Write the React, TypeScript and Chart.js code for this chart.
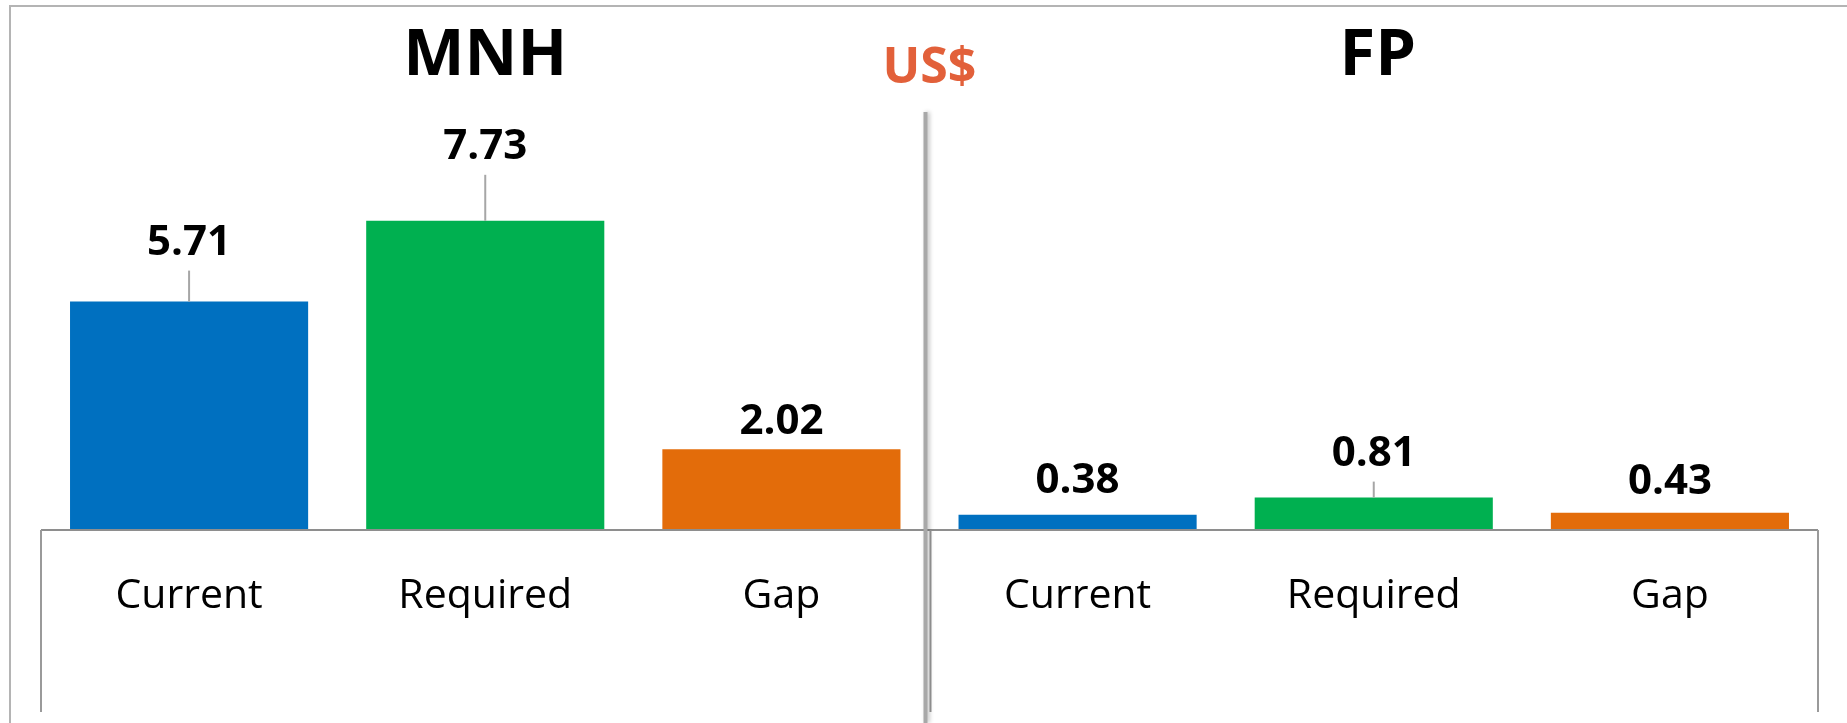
import React, { useEffect, useRef } from "react";
import { Chart, registerables } from "chart.js";

Chart.register(...registerables);

// ---- data ----
const groupTitles = ["MNH", "FP"];
const unitLabel = "US$";
const categories = ["Current", "Required", "Gap", "Current", "Required", "Gap"];
const mnhValues = [5.71, 7.73, 2.02];
const fpValues = [0.38, 0.81, 0.43];
const values = [...mnhValues, ...fpValues];

// ---- styles / layout ----
const barColors = ["#0070C0", "#00B050", "#E36C0A", "#0070C0", "#00B050", "#E36C0A"];
const labelLiftPx = [47, 62, 15, 22, 32, 19]; // distance from bar top to value label baseline
const FONT = "'Open Sans', 'Noto Sans', 'DejaVu Sans', sans-serif";
const W = 1847;
const H = 723;

const decorPlugin = {
  id: "decor",
  beforeDraw(chart: any) {
    const { ctx } = chart;
    ctx.save();
    ctx.fillStyle = "#ffffff";
    ctx.fillRect(0, 0, chart.width, chart.height);
    // outer frame (top + left)
    ctx.strokeStyle = "#B4B4B4";
    ctx.lineWidth = 2;
    ctx.beginPath();
    ctx.moveTo(10, chart.height);
    ctx.lineTo(10, 6);
    ctx.lineTo(chart.width, 6);
    ctx.stroke();
    ctx.restore();
  },
  afterDatasetsDraw(chart: any) {
    const { ctx, chartArea } = chart;
    const x = chart.scales.x;
    const y = chart.scales.y;
    const base = y.getPixelForValue(0);
    const boundary = (x.getPixelForValue(2) + x.getPixelForValue(3)) / 2;
    const left = chartArea.left;
    const right = chartArea.right;
    const boxBottom = base + 182;

    ctx.save();
    // category box lines
    ctx.strokeStyle = "#8E8E8E";
    ctx.lineWidth = 2;
    ctx.beginPath();
    ctx.moveTo(left, base);
    ctx.lineTo(right, base);
    ctx.stroke();
    ctx.strokeStyle = "#9A9A9A";
    [left, boundary + 1, right].forEach((px) => {
      ctx.beginPath();
      ctx.moveTo(px, base);
      ctx.lineTo(px, boxBottom);
      ctx.stroke();
    });

    // thick separator with shadow
    ctx.save();
    ctx.shadowColor = "rgba(0,0,0,0.25)";
    ctx.shadowBlur = 4;
    ctx.shadowOffsetX = 2;
    ctx.strokeStyle = "#A8A8A8";
    ctx.lineWidth = 4;
    ctx.beginPath();
    ctx.moveTo(boundary - 4, base - 418);
    ctx.lineTo(boundary - 4, chart.height);
    ctx.stroke();
    ctx.restore();

    // value labels + leader lines
    const meta = chart.getDatasetMeta(0);
    meta.data.forEach((bar: any, i: number) => {
      const top = bar.y;
      const labelY = top - labelLiftPx[i];
      if (labelLiftPx[i] > 25) {
        ctx.strokeStyle = "#A6A6A6";
        ctx.lineWidth = 2;
        ctx.beginPath();
        ctx.moveTo(bar.x, top);
        ctx.lineTo(bar.x, labelY + 16);
        ctx.stroke();
      }
      ctx.fillStyle = "#000000";
      ctx.font = `bold 42px ${FONT}`;
      ctx.textAlign = "center";
      ctx.textBaseline = "alphabetic";
      ctx.fillText(values[i].toFixed(2), bar.x, labelY);
    });

    // category labels
    ctx.fillStyle = "#000000";
    ctx.font = `41px ${FONT}`;
    ctx.textAlign = "center";
    ctx.textBaseline = "alphabetic";
    categories.forEach((c, i) => {
      ctx.fillText(c, x.getPixelForValue(i), base + 78);
    });

    // group titles
    ctx.font = `bold 65px ${FONT}`;
    ctx.fillText(groupTitles[0], (left + boundary) / 2, 75);
    ctx.fillText(groupTitles[1], (boundary + right) / 2 + 4, 75);
    ctx.fillStyle = "#E2603A";
    ctx.font = `bold 50px ${FONT}`;
    ctx.fillText(unitLabel, boundary, 83);
    ctx.restore();
  },
};

export default function App() {
  const ref = useRef<HTMLCanvasElement | null>(null);

  useEffect(() => {
    if (!ref.current) return;
    const chart = new Chart(ref.current, {
      type: "bar",
      data: {
        labels: categories,
        datasets: [
          {
            data: values,
            backgroundColor: barColors,
            borderWidth: 0,
            categoryPercentage: 1,
            barPercentage: 0.804,
          },
        ],
      },
      options: {
        responsive: false,
        animation: false,
        devicePixelRatio: 1,
        layout: { padding: { left: 41, right: 29, top: 90, bottom: 193 } },
        plugins: { legend: { display: false }, tooltip: { enabled: false } },
        scales: {
          x: { display: false },
          y: { display: false, min: 0, max: 11.0 },
        },
      },
      plugins: [decorPlugin],
    });
    const fonts: any = (document as any).fonts;
    if (fonts && fonts.ready) fonts.ready.then(() => chart.update());
    return () => chart.destroy();
  }, []);

  return (
    <div style={{ position: "absolute", left: 0, top: 0, width: W, height: H, background: "#fff" }}>
      <canvas ref={ref} width={W} height={H} style={{ width: W, height: H, display: "block" }} />
    </div>
  );
}
